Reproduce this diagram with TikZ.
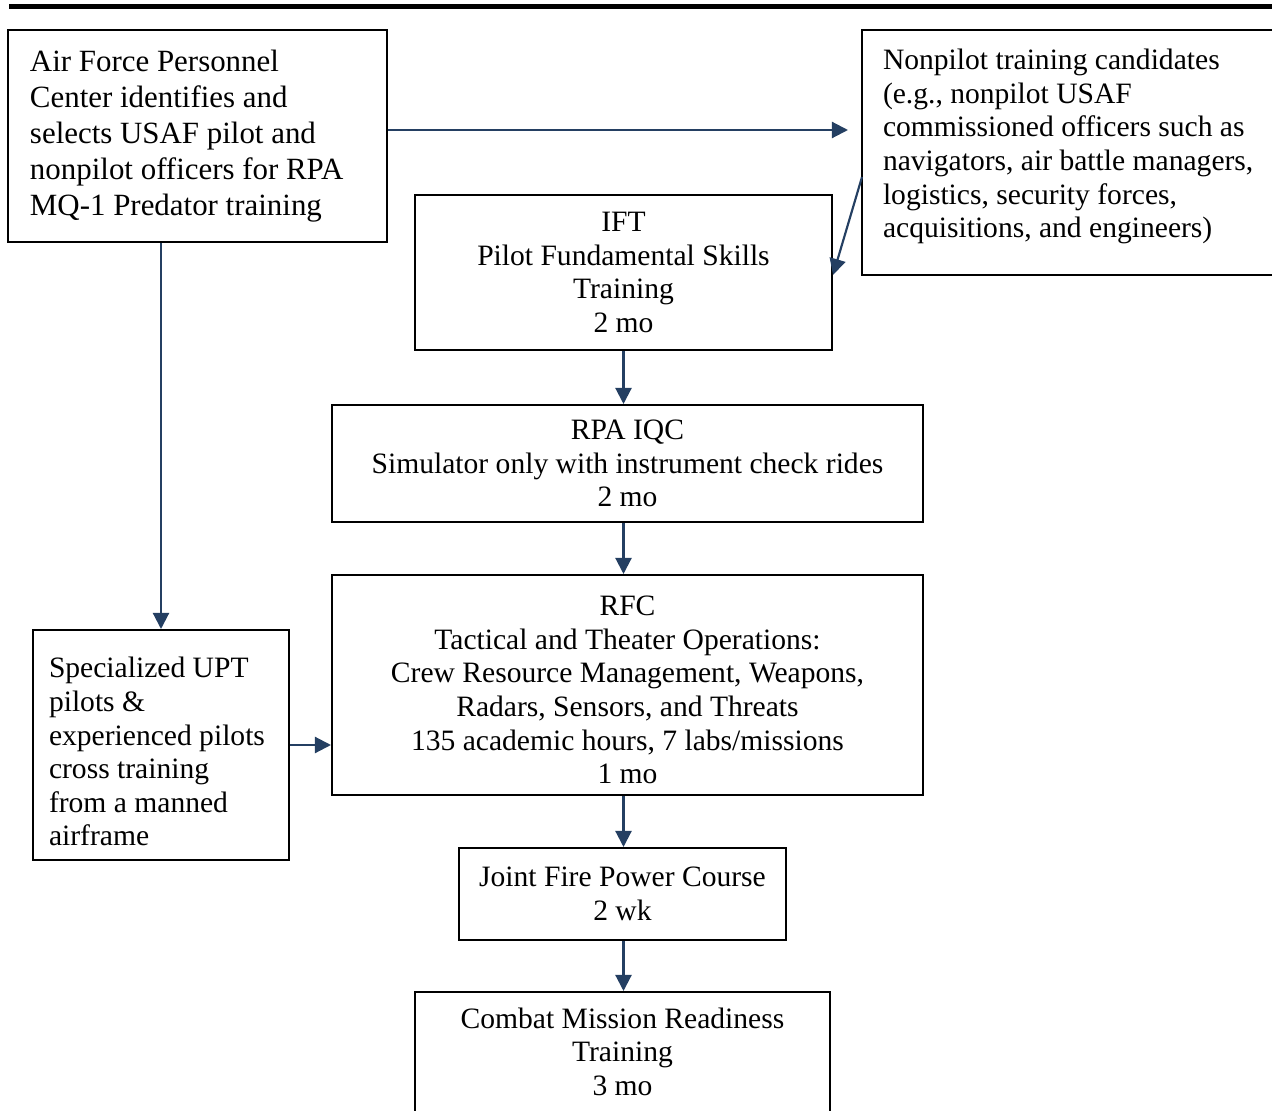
\documentclass[tikz,border=0pt]{standalone}
\usepackage{fontspec}
\setmainfont{Liberation Serif}
\usepackage{tikz}
\usetikzlibrary{positioning}
\usetikzlibrary{arrows.meta}
\usetikzlibrary{calc}

\definecolor{arrowblue}{RGB}{36,63,98}

% invisible struts to nudge the text inside a box
\newcommand{\drop}[1]{\rule{0pt}{#1}}
\newcommand{\lift}[1]{\rule[-#1]{0pt}{#1}}

\begin{document}
\begin{tikzpicture}[x=0.372pt, y=-0.372pt,
	box/.style={draw, line width=0.75pt, rectangle, inner sep=0pt, align=flush center,
		font=\fontsize{11}{12.5}\selectfont},
	arr/.style={draw=arrowblue, line width=0.8pt, -{Triangle[length=6pt,width=6pt]}}]

	\def\u{0.372pt}

	\useasboundingbox (0,0) rectangle (1272,1111);
	\clip (0,0) rectangle (1272,1111);

	% rule on top of the page
	\draw[line width=1.5pt] (9,6.5) -- (1272,6.5);

	% boxes
	\node[box, align=flush left, font=\fontsize{11.5}{13.4}\selectfont, text width={335*\u}, inner xsep={22*\u},
		minimum height={212*\u}] (afpc) at (197.5,136)
		{Air Force Personnel\\ Center identifies and\\ selects USAF pilot and\\ nonpilot officers for RPA\\ MQ-1 Predator training};
	\node[box, align=flush left, text width={386*\u}, inner xsep={21*\u}, minimum height={245*\u}] (nonpilot) at (1076,152.5)
		{Nonpilot training candidates\\ (e.g., nonpilot USAF\\ commissioned officers such as\\ navigators, air battle managers,\\ logistics, security forces,\\ acquisitions, and engineers)\lift{6.7pt}};
	\node[box, minimum width={417*\u}, minimum height={155*\u}] (ift) at (623.5,272.5)
		{IFT\\ Pilot Fundamental Skills\\ Training\\ 2 mo};
	\node[box, minimum width={591*\u}, minimum height={117*\u}] (iqc) at (627.5,463.5)
		{RPA IQC\\ Simulator only with instrument check rides\\ 2 mo};
	\node[box, minimum width={591*\u}, minimum height={220*\u}] (rfc) at (627.5,685)
		{\drop{11pt}RFC\\ Tactical and Theater Operations:\\ Crew Resource Management, Weapons,\\ Radars, Sensors, and Threats\\ 135 academic hours, 7 labs/missions\\ 1 mo};
	\node[box, align=flush left, text width={224*\u}, inner xsep={16*\u}, minimum height={230*\u}] (spec) at (161,745)
		{\drop{12.7pt}Specialized UPT\\ pilots \&\\ experienced pilots\\ cross training\\ from a manned\\ airframe};
	\node[box, minimum width={327*\u}, minimum height={92*\u}] (joint) at (622.5,894)
		{Joint Fire Power Course\\ 2 wk};
	\node[box, minimum width={415*\u}, minimum height={125*\u}] (combat) at (622.5,1054.5)
		{Combat Mission Readiness\\ Training\\ 3 mo\lift{2.2pt}};

	% arrows
	\draw[arr] ($(afpc.east)+(0,-6)$) -- ($(nonpilot.west)+(-13,-22.5)$);
	\draw[arr] ($(nonpilot.west)+(1,24.5)$) -- ($(ift.east)+(0,2.5)$);
	\draw[arr] (afpc.south -| spec.north) -- (spec.north);
	\draw[arr] (spec.east) -- (spec.east -| rfc.west);
	\foreach \a/\b in {ift/iqc, iqc/rfc, rfc/joint, joint/combat} {
		\draw[arr] (ift.south |- \a.south) -- (ift.south |- \b.north);
	}

\end{tikzpicture}
\end{document}
